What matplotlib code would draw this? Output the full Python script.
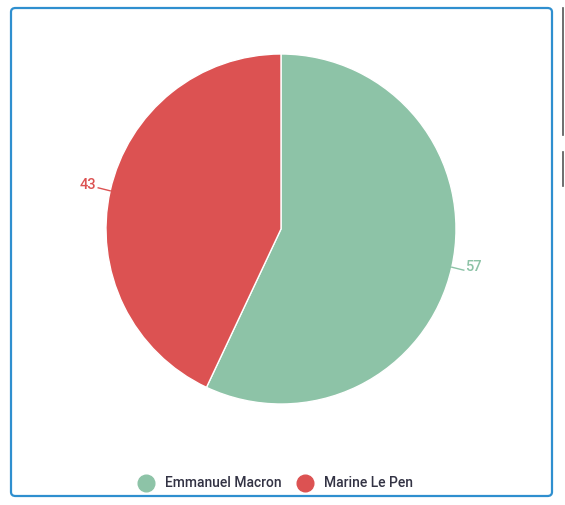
import numpy as np
import matplotlib.pyplot as plt
from matplotlib.patches import FancyBboxPatch
from matplotlib.lines import Line2D

candidates = ["Emmanuel Macron", "Marine Le Pen"]
votes = [57, 43]
colors = ["#8dc3a7", "#dc5252"]

plt.rcParams["font.family"] = ["Roboto", "DejaVu Sans"]

W, H = 565, 505
fig = plt.figure(figsize=(W / 100, H / 100), dpi=100)

# card border
border = FancyBboxPatch((11 / W, 9 / H), 541 / W, 488 / H,
                        boxstyle="round,pad=0,rounding_size=0.008",
                        transform=fig.transFigure, facecolor="none",
                        edgecolor="#2f8fcf", linewidth=1.6, zorder=5)
fig.add_artist(border)

# clipped neighbour widget at right edge
fig.add_artist(Line2D([563 / W, 563 / W], [1 - 8 / H, 1 - 135 / H], color="#555555", lw=1.2))
fig.add_artist(Line2D([563 / W, 563 / W], [1 - 152 / H, 1 - 186 / H], color="#555555", lw=1.2))

cx, cy, r = 281, H - 229, 175
ax = fig.add_axes([(cx - r) / W, (cy - r) / H, 2 * r / W, 2 * r / H])
wedges, _ = ax.pie(votes, colors=colors, startangle=90, counterclock=False,
                   radius=1, wedgeprops=dict(edgecolor="white", linewidth=1))
ax.set_xlim(-1, 1)
ax.set_ylim(-1, 1)
ax.set_aspect("equal")
ax.axis("off")

px = 1 / r  # one pixel in data units
for w, v, c in zip(wedges, votes, colors):
    ang = np.deg2rad((w.theta1 + w.theta2) / 2)
    x, y = np.cos(ang), np.sin(ang)
    sx, sy = np.sign(x), np.sign(y)
    x1, y1 = x + 12 * px * sx, y + 3 * px * sy
    ax.plot([x, x1], [y, y1], color=c, lw=1, clip_on=False)
    ha = "left" if x > 0 else "right"
    ax.text(x1 + 1.5 * px * sx, y1 + 3 * px, str(v), color=c, fontsize=10.5,
            fontweight="medium", ha=ha, va="center", clip_on=False)

# legend
ly = (H - 483) / H
for xm, xt, name, c in [(146, 165, candidates[0], colors[0]), (305, 324, candidates[1], colors[1])]:
    fig.add_artist(Line2D([xm / W], [ly], marker="o", markersize=12, color=c, linestyle="none"))
    fig.text(xt / W, ly, name, fontsize=10, fontweight="medium", color="#333344",
             va="center", ha="left")

fig.savefig("out.png", dpi=100)
